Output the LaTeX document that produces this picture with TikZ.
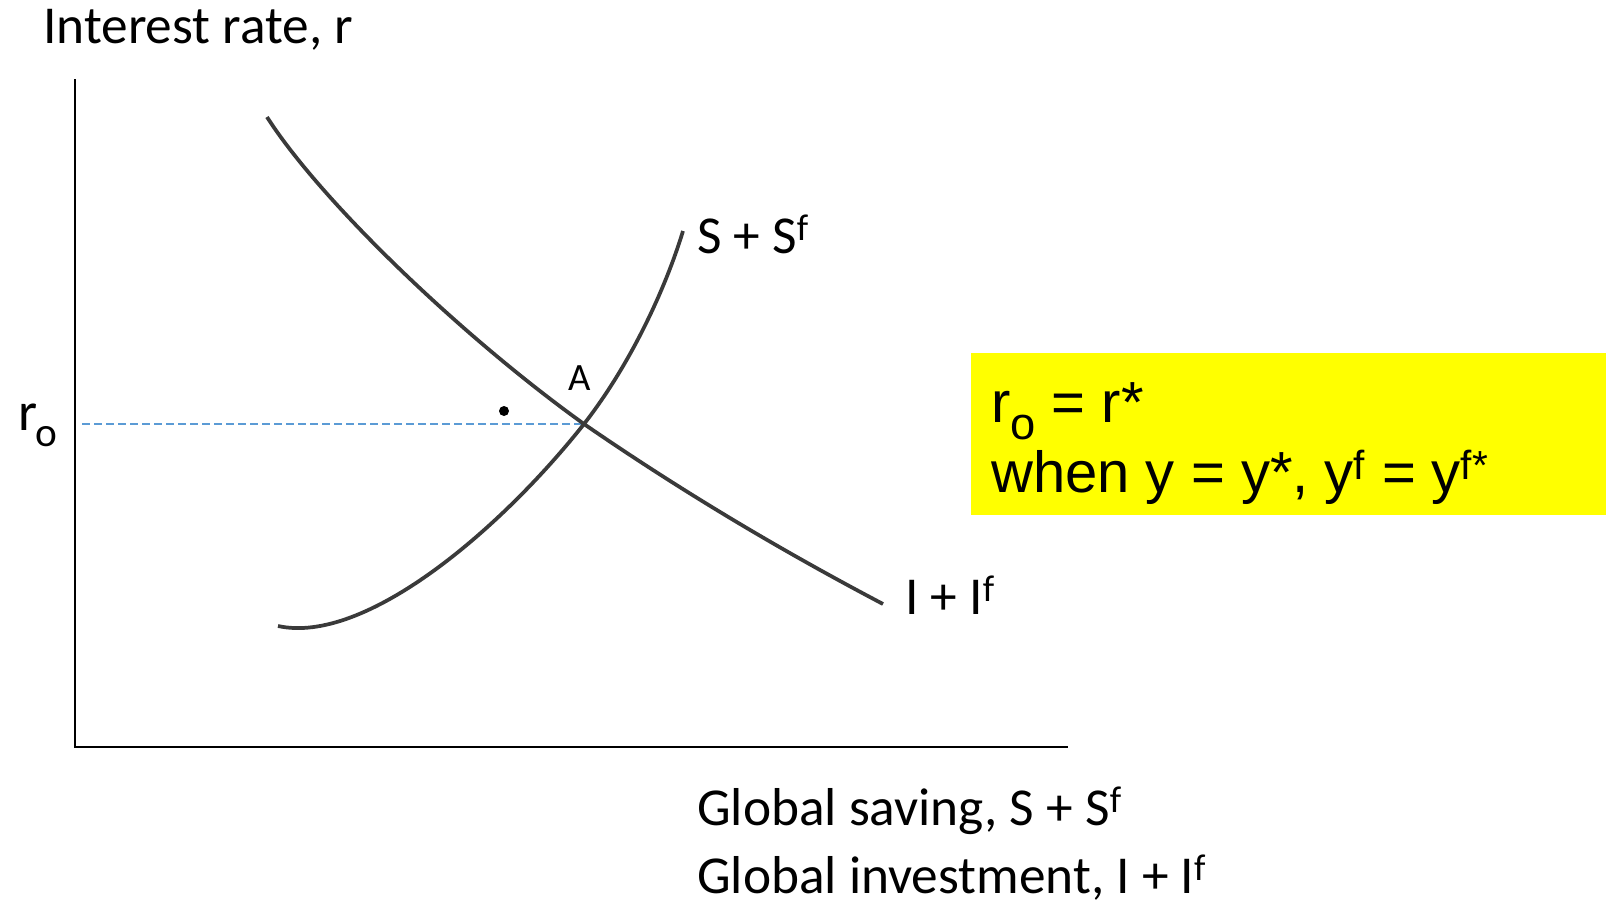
\documentclass[tikz,border=0pt]{standalone}
\usepackage{fontspec}
\setmainfont{Carlito}
\newfontfamily\arialf{Liberation Sans}
\definecolor{curvegray}{HTML}{3A3A3A}
\definecolor{dashblue}{HTML}{5B9BD5}
\definecolor{boxyellow}{HTML}{FFFF00}
\newcommand{\lowsub}[2]{\raisebox{-0.3em}{\fontsize{#1}{#1}\selectfont #2}}
\tikzset{
  lbl/.style={inner sep=0pt, anchor=base west, font=\fontsize{40}{48}\selectfont},
  small/.style={inner sep=0pt, anchor=base west, font=\fontsize{29}{35}\selectfont},
  boxtxt/.style={inner sep=0pt, anchor=base west, font=\arialf\fontsize{43.5}{52}\selectfont},
  curve/.style={draw=curvegray, line width=2.8pt},
  axis/.style={draw=black, line width=1.3pt},
  guide/.style={draw=dashblue, line width=1pt, dash pattern=on 6pt off 3pt}
}
\begin{document}
\begin{tikzpicture}[x=0.75pt,y=-0.75pt]
\useasboundingbox (0,0) rectangle (1606,900);
% yellow box
\fill[boxyellow] (971,353) rectangle (1606,515);
\node[boxtxt] (b1) at (991,422) {r\lowsub{34}{o} = r*};
\node[boxtxt] (b2) at (991,492) {when y = y*, y\textsuperscript{f} = y\textsuperscript{f*}};
% axes
\coordinate (top) at (75,79);
\coordinate (O) at (75,747);
\coordinate (right) at (1068,747);
\draw[axis] (top) -- (O) -- (right);
% labels
\node[lbl] (ylab) at (43,43) {Interest rate, r};
\node[lbl] (x1) at (697,825) {Global saving, S + S\textsuperscript{f}};
\node[lbl] (x2) at (697,893) {Global investment, I + I\textsuperscript{f}};
\node[lbl, font=\fontsize{41}{48}\selectfont] (r0) at (18,430) {r\kern-1pt\lowsub{31}{o}};
% equilibrium
\coordinate (A) at (584,424);
\coordinate (g0) at (82,424);
\draw[guide] (g0) -- (A);
% curves
\draw[curve] (267,117) .. controls (320,200) and (460,335) .. (A)
             .. controls (690,497) and (790,555) .. (883,604) coordinate (iend);
\draw[curve] (278,626) .. controls (365,645) and (500,530) .. (A)
             .. controls (630,365) and (665,290) .. (683,231) coordinate (send);
\node[lbl] (slab) at (697,253) {S + S\textsuperscript{f}};
\node[lbl] (ilab) at (905,614) {I + I\textsuperscript{f}};
\node[small] (alab) at (568,390) {A};
\fill (504,411) circle (5);
\end{tikzpicture}
\end{document}
